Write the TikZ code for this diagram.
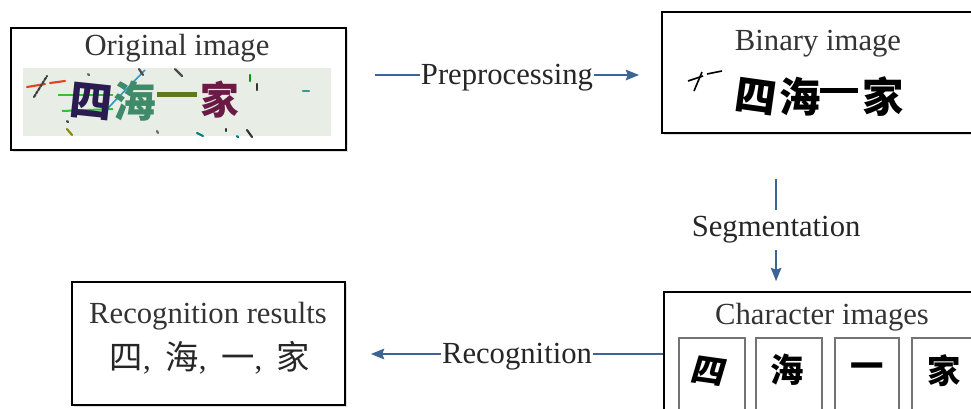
\documentclass[tikz,border=0pt]{standalone}
\usepackage{fontspec}
\setmainfont{Liberation Serif}
\newfontfamily\cjk{Noto Sans CJK SC}
\usetikzlibrary{arrows.meta,calc,fit,shadows}

\definecolor{arrowblue}{HTML}{3C6494}
\definecolor{panelgray}{HTML}{E8EEE6}
\definecolor{inknavy}{HTML}{2A1B50}
\definecolor{inkteal}{HTML}{3F8A68}
\definecolor{inkolive}{HTML}{5E7A1E}
\definecolor{inkplum}{HTML}{6A1A45}

\begin{document}
\begin{tikzpicture}[x=0.75pt,y=-0.75pt,
  box/.style={draw=black, line width=1.4pt, fill=white, inner sep=0pt,
    drop shadow={shadow xshift=1.2pt, shadow yshift=-1.2pt, opacity=0.25}},
  cellbox/.style={draw=black!55, line width=0.8pt, fill=white, inner sep=0pt},
  flow/.style={draw=arrowblue, line width=0.9pt,
    -{Stealth[length=10pt,width=8pt,inset=1.5pt]}},
  steplabel/.style={fill=white, inner sep=0.6pt, text=black!85,
    font=\fontsize{23}{26}\selectfont},
  title/.style={inner sep=0pt, text=black!80, font=\fontsize{23}{26}\selectfont},
  noisy/.style={line width=1.6pt, line cap=round},
  bigglyph/.style={inner sep=0pt, font=\cjk\bfseries\fontsize{32}{32}\selectfont},
  binglyph/.style={inner sep=0pt, font=\cjk\bfseries\fontsize{31}{31}\selectfont},
  cellglyph/.style={inner sep=0pt, font=\cjk\bfseries\fontsize{25}{25}\selectfont}]

\clip (0,0) rectangle (971,408);
\fill[white] (0,0) rectangle (971,408);

% ---------- boxes ----------
\node[box, fit={(11,28) (346,150)}] (orig) {};
\node[box, fit={(662,12) (992,133)}] (bin) {};
\node[box, fit={(664,292) (992,422)}] (chr) {};
\node[box, fit={(72,282) (345,405)}] (res) {};

% ---------- original image ----------
\node[title] (origtitle) at (177,48) {Original image};
\fill[panelgray] (23,68) rectangle (331,136);
% noise strokes
\draw[noisy, color=red!45!brown] (27,87) -- (45,84);
\draw[noisy, color=red!45!brown] (50,83) -- (65,81);
\draw[noisy, color=black!75, dashed, dash pattern=on 2pt off 1pt] (34,97) -- (47,76);
\draw[line width=1.5pt, color=green!70!black!80] (58,95) -- (113,95);
\draw[line width=1.5pt, color=green!70!black!80] (62,111) -- (113,109);
\draw[line width=1.2pt, color=cyan!60!teal] (108,108) -- (145,70);
\draw[noisy, color=black!70] (139,69) -- (143,75);
\draw[noisy, color=black!70] (175,69) -- (182,76);
\draw[noisy, color=green!60!black] (250,75) -- (250,81);
\draw[noisy, color=black!80] (257,84) -- (257,90);
\draw[noisy, color=teal!80] (303,91) -- (309,91);
\draw[noisy, color=olive] (67,129) -- (72,135);
\draw[noisy, color=black!70] (67,121) -- (68,122);
\draw[noisy, color=black!60] (88,74) -- (89,75);
\draw[noisy, color=black!60] (157,131) -- (158,133);
\draw[noisy, color=teal] (197,133) -- (203,136);
\draw[noisy, color=black!80] (226,129) -- (226,131);
\draw[noisy, color=teal] (237,136) -- (238,137);
\draw[noisy, color=black!80] (247,130) -- (252,137);
% coloured glyphs
\node[bigglyph, text=inknavy, rotate=-6] (osi) at (91,102) {四};
\node[bigglyph, text=inkteal] (ohai) at (135,101) {海};
\fill[inkolive] (157,92) rectangle (197,97);
\node[bigglyph, text=inkplum, font=\cjk\bfseries\fontsize{29}{29}\selectfont] (ojia) at (220,100) {家};

% ---------- binary image ----------
\node[title] (bintitle) at (818,44) {Binary image};
\draw[line width=1.2pt] (688,81) -- (703,76);
\draw[line width=1.2pt] (707,74) -- (722,71);
\draw[line width=1.2pt] (702,72) -- (694,91);
\node[binglyph, rotate=-8] (bsi) at (756,97) {四};
\node[binglyph] (bhai) at (800,97) {海};
\fill[black] (820,88) rectangle (858,92.5);
\node[binglyph] (bjia) at (883,97) {家};

% ---------- character images ----------
\node[title] (chrtitle) at (822,317) {Character images};
\node[cellbox, fit={(679,338) (745,414)}] (c1) {};
\node[cellbox, fit={(756,338) (822,414)}] (c2) {};
\node[cellbox, fit={(835,338) (899,414)}] (c3) {};
\node[cellbox, fit={(912,338) (978,414)}] (c4) {};
\node[cellglyph, rotate=-8, xslant=0.15] (g1) at (709,371) {四};
\node[cellglyph] (g2) at (787,370) {海};
\node[cellglyph] (g3) at (867,371) {一};
\node[cellglyph] (g4) at (944,371) {家};

% ---------- recognition results ----------
\node[title] (restitle) at (208,316) {Recognition results};
\node[inner sep=0pt, text=black!85] (reschars) at (210,358)
  {{\cjk\fontsize{25}{25}\selectfont 四}{\fontsize{23}{26}\selectfont,}\hspace{11pt}%
   {\cjk\fontsize{25}{25}\selectfont 海}{\fontsize{23}{26}\selectfont,}\hspace{11pt}%
   {\cjk\fontsize{25}{25}\selectfont 一}{\fontsize{23}{26}\selectfont,}\hspace{11pt}%
   {\cjk\fontsize{25}{25}\selectfont 家}};

% ---------- connectors ----------
\coordinate (preA) at ($(orig.east |- bin.west)+(28,2.5)$);
\coordinate (preB) at ($(bin.west)+(-22,2.5)$);
\draw[flow] (preA) -- node[steplabel, yshift=-2pt] {Preprocessing} (preB);

\coordinate (segA) at ($(bin.south west)+(115,45)$);
\coordinate (segB) at ($(chr.north west)+(113,-10)$);
\draw[flow] (segA) -- node[steplabel, inner sep=5pt] {Segmentation} (segB);

\coordinate (recA) at ($(chr.west)+(0,-3)$);
\coordinate (recB) at ($(res.east |- chr.west)+(25,-3)$);
\draw[flow] (recA) -- node[steplabel, yshift=-2pt] {Recognition} (recB);

\end{tikzpicture}
\end{document}
